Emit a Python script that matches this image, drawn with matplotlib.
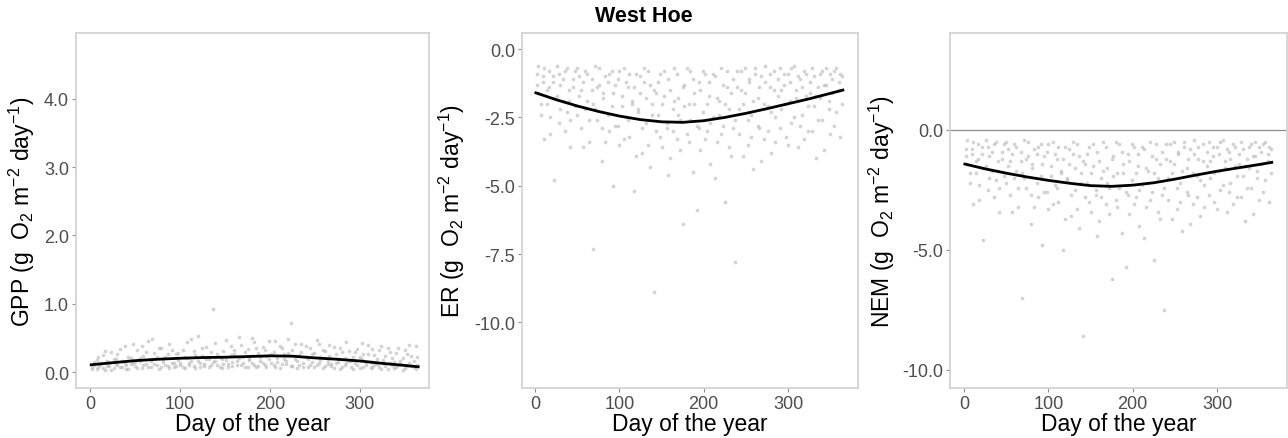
import matplotlib
matplotlib.use("Agg")
import matplotlib.pyplot as plt
from matplotlib.ticker import FormatStrFormatter

plt.rcParams['font.family'] = ['Liberation Sans', 'DejaVu Sans']
plt.rcParams['mathtext.default'] = 'regular'

# Day of the year for the daily estimates (two years share the same days)
days = [
    2, 4, 7, 9, 11, 14, 16, 18, 21, 23, 26, 28, 30, 33, 35, 38, 40, 42, 45, 47,
    50, 52, 55, 57, 59, 62, 64, 67, 69, 71, 74, 76, 79, 81, 83, 86, 88, 91, 93, 95,
    98, 100, 103, 105, 108, 110, 112, 115, 117, 120, 122, 124, 127, 129, 132, 134, 136, 139, 141, 144,
    146, 148, 151, 153, 156, 158, 160, 163, 165, 168, 170, 172, 175, 177, 180, 182, 184, 187, 189, 192,
    194, 196, 199, 201, 204, 206, 208, 211, 213, 216, 218, 220, 223, 225, 228, 230, 232, 235, 237, 240,
    242, 244, 247, 249, 252, 254, 256, 259, 261, 264, 266, 268, 271, 273, 276, 278, 280, 283, 285, 288,
    290, 292, 295, 297, 300, 302, 304, 307, 309, 312, 314, 316, 319, 321, 324, 326, 328, 331, 333, 336,
    338, 340, 343, 345, 348, 350, 352, 355, 357, 360, 362, 364]

gpp_y1 = [
    0.08, 0.15, 0.05, 0.22, 0.11, 0.06, 0.31, 0.09, 0.14, 0.04, 0.19, 0.12, 0.27, 0.07, 0.16, 0.38, 0.10, 0.05, 0.21, 0.13,
    0.09, 0.33, 0.17, 0.06, 0.24, 0.12, 0.45, 0.08, 0.19, 0.28, 0.11, 0.05, 0.36, 0.15, 0.22, 0.09, 0.41, 0.13, 0.07, 0.26,
    0.18, 0.10, 0.32, 0.06, 0.21, 0.14, 0.48, 0.09, 0.25, 0.17, 0.07, 0.35, 0.12, 0.20, 0.08, 0.29, 0.15, 0.43, 0.11, 0.23,
    0.06, 0.31, 0.18, 0.12, 0.39, 0.09, 0.26, 0.16, 0.52, 0.10, 0.22, 0.07, 0.34, 0.19, 0.13, 0.44, 0.08, 0.28, 0.17, 0.37,
    0.11, 0.24, 0.46, 0.14, 0.30, 0.08, 0.21, 0.38, 0.12, 0.27, 0.16, 0.49, 0.09, 0.33, 0.19, 0.06, 0.25, 0.41, 0.13, 0.22,
    0.07, 0.35, 0.15, 0.28, 0.10, 0.42, 0.18, 0.06, 0.31, 0.12, 0.24, 0.09, 0.37, 0.14, 0.20, 0.05, 0.29, 0.11, 0.44, 0.16,
    0.08, 0.23, 0.13, 0.34, 0.06, 0.19, 0.27, 0.10, 0.40, 0.15, 0.07, 0.25, 0.12, 0.32, 0.05, 0.18, 0.09, 0.36, 0.14, 0.21,
    0.06, 0.28, 0.11, 0.17, 0.04, 0.33, 0.09, 0.13, 0.24, 0.07, 0.38, 0.10]
gpp_y2 = [
    0.05, 0.10, 0.18, 0.07, 0.13, 0.25, 0.04, 0.16, 0.09, 0.29, 0.06, 0.20, 0.11, 0.34, 0.08, 0.14, 0.05, 0.23, 0.12, 0.42,
    0.15, 0.06, 0.21, 0.39, 0.10, 0.30, 0.07, 0.17, 0.48, 0.12, 0.23, 0.35, 0.08, 0.19, 0.11, 0.27, 0.06, 0.32, 0.14, 0.09,
    0.28, 0.13, 0.07, 0.22, 0.44, 0.10, 0.17, 0.31, 0.06, 0.53, 0.14, 0.24, 0.09, 0.37, 0.19, 0.11, 0.92, 0.16, 0.27, 0.08,
    0.20, 0.12, 0.47, 0.08, 0.25, 0.15, 0.33, 0.10, 0.21, 0.40, 0.13, 0.29, 0.07, 0.18, 0.50, 0.11, 0.36, 0.09, 0.23, 0.14,
    0.32, 0.08, 0.19, 0.27, 0.10, 0.45, 0.15, 0.06, 0.35, 0.20, 0.12, 0.28, 0.72, 0.09, 0.42, 0.16, 0.11, 0.30, 0.07, 0.38,
    0.19, 0.10, 0.26, 0.08, 0.47, 0.14, 0.22, 0.33, 0.09, 0.17, 0.40, 0.12, 0.06, 0.27, 0.15, 0.36, 0.08, 0.21, 0.13, 0.31,
    0.17, 0.05, 0.30, 0.10, 0.22, 0.43, 0.08, 0.15, 0.26, 0.06, 0.34, 0.11, 0.20, 0.07, 0.39, 0.13, 0.24, 0.05, 0.29, 0.10,
    0.15, 0.08, 0.35, 0.12, 0.21, 0.06, 0.27, 0.40, 0.09, 0.16, 0.05, 0.22]

er_y1 = [
    -0.9, -1.6, -2.4, -1.2, -0.7, -2.0, -1.4, -3.1, -1.0, -1.8, -0.6, -2.7, -1.3, -1.9, -0.8, -2.3, -1.5, -3.6, -1.1, -2.1,
    -0.7, -1.7, -2.9, -1.2, -2.2, -0.9, -3.4, -1.5, -2.0, -0.6, -2.6, -1.3, -4.1, -1.8, -1.0, -2.4, -3.0, -0.8, -1.6, -2.8,
    -1.1, -3.5, -2.1, -0.7, -2.5, -1.4, -3.2, -1.9, -5.2, -0.9, -2.3, -1.6, -3.8, -1.2, -2.7, -0.8, -4.3, -2.0, -1.5, -3.0,
    -2.4, -0.9, -3.6, -1.7, -2.9, -1.1, -4.0, -2.2, -0.7, -3.3, -1.8, -2.6, -6.4, -1.3, -3.1, -2.0, -0.8, -4.5, -1.6, -2.8,
    -1.2, -3.7, -2.3, -0.9, -3.0, -1.7, -4.2, -2.5, -1.0, -3.4, -1.9, -0.7, -2.8, -5.6, -1.4, -2.2, -3.9, -1.1, -2.6, -0.8,
    -3.1, -1.5, -2.0, -0.7, -3.5, -1.2, -2.4, -4.4, -0.9, -1.8, -2.9, -1.0, -3.3, -0.6, -2.1, -1.4, -3.8, -0.8, -2.5, -1.7,
    -0.7, -2.2, -1.3, -3.2, -0.9, -1.9, -2.7, -0.6, -1.5, -3.6, -1.1, -2.4, -0.8, -1.7, -3.0, -1.2, -0.7, -2.1, -4.0, -1.4,
    -0.9, -2.6, -1.3, -0.7, -1.9, -3.1, -1.1, -0.8, -2.3, -1.5, -0.9, -2.0]
er_y2 = [
    -1.3, -0.6, -2.0, -1.0, -3.3, -1.5, -0.8, -2.5, -1.2, -4.8, -1.7, -0.9, -2.2, -1.1, -3.0, -0.7, -1.9, -2.6, -1.4, -0.8,
    -2.4, -1.0, -1.5, -3.6, -0.8, -1.9, -2.6, -1.1, -7.3, -2.2, -1.4, -0.7, -2.9, -1.6, -3.4, -1.2, -0.9, -2.1, -5.0, -1.3,
    -2.8, -0.8, -1.7, -3.3, -1.2, -2.6, -0.9, -2.0, -1.4, -3.9, -2.2, -1.0, -2.9, -0.7, -1.8, -3.5, -1.3, -2.4, -8.9, -1.6,
    -1.2, -3.2, -2.0, -0.8, -2.7, -4.6, -1.5, -3.0, -1.9, -0.9, -2.4, -3.7, -1.4, -2.1, -0.7, -3.4, -2.6, -1.1, -2.0, -5.9,
    -2.9, -1.5, -0.8, -3.3, -2.0, -1.2, -2.7, -0.9, -4.7, -1.8, -2.4, -3.1, -1.3, -2.0, -0.8, -3.6, -1.6, -2.9, -7.8, -1.4,
    -2.2, -0.8, -3.9, -1.6, -2.6, -1.1, -3.2, -1.9, -0.7, -2.8, -1.4, -4.1, -2.0, -1.2, -3.0, -0.9, -2.3, -1.5, -3.4, -1.1,
    -2.9, -1.5, -0.9, -2.0, -3.5, -1.2, -0.7, -2.5, -1.8, -1.0, -2.8, -1.4, -3.3, -0.9, -2.1, -1.6, -3.0, -1.0, -1.7, -2.6,
    -1.8, -0.8, -3.7, -1.3, -2.2, -0.9, -1.6, -2.8, -0.7, -1.2, -3.2, -1.0]

nem_y1 = [
    -0.8, -1.4, -2.2, -1.0, -0.5, -1.8, -1.2, -2.9, -0.7, -1.6, -0.4, -2.5, -1.1, -1.7, -0.6, -2.1, -1.3, -3.4, -0.9, -1.9,
    -0.5, -1.5, -2.7, -1.0, -2.0, -0.7, -3.2, -1.3, -1.8, -0.4, -2.4, -1.1, -3.9, -1.6, -0.8, -2.2, -2.8, -0.6, -1.4, -2.6,
    -0.9, -3.3, -1.9, -0.5, -2.3, -1.2, -3.0, -1.7, -5.0, -0.7, -2.1, -1.4, -3.6, -1.0, -2.5, -0.6, -4.1, -1.8, -1.3, -2.8,
    -2.2, -0.7, -3.4, -1.5, -2.7, -0.9, -3.8, -2.0, -0.5, -3.1, -1.6, -2.4, -6.2, -1.1, -2.9, -1.8, -0.6, -4.3, -1.4, -2.6,
    -1.0, -3.5, -2.1, -0.7, -2.8, -1.5, -4.0, -2.3, -0.8, -3.2, -1.7, -0.5, -2.6, -5.4, -1.2, -2.0, -3.7, -0.9, -2.4, -0.6,
    -2.9, -1.3, -1.8, -0.5, -3.3, -1.0, -2.2, -4.2, -0.7, -1.6, -2.7, -0.8, -3.1, -0.4, -1.9, -1.2, -3.6, -0.6, -2.3, -1.5,
    -0.5, -2.0, -1.1, -3.0, -0.7, -1.7, -2.5, -0.4, -1.3, -3.4, -0.9, -2.2, -0.6, -1.5, -2.8, -1.0, -0.5, -1.9, -3.8, -1.2,
    -0.7, -2.4, -1.1, -0.5, -1.7, -2.9, -0.9, -0.6, -2.1, -1.3, -0.7, -1.8]
nem_y2 = [
    -1.1, -0.4, -1.8, -0.8, -3.1, -1.3, -0.6, -2.3, -1.0, -4.6, -1.5, -0.7, -2.0, -0.9, -2.8, -0.5, -1.7, -2.4, -1.2, -0.6,
    -2.2, -0.8, -1.3, -3.4, -0.6, -1.7, -2.4, -0.9, -7.0, -2.0, -1.2, -0.5, -2.7, -1.4, -3.2, -1.0, -0.7, -1.9, -4.8, -1.1,
    -2.6, -0.6, -1.5, -3.1, -1.0, -2.4, -0.7, -1.8, -1.2, -3.7, -2.0, -0.8, -2.7, -0.5, -1.6, -3.3, -1.1, -2.2, -8.6, -1.4,
    -1.0, -3.0, -1.8, -0.6, -2.5, -4.4, -1.3, -2.8, -1.7, -0.7, -2.2, -3.5, -1.2, -1.9, -0.5, -3.2, -2.4, -0.9, -1.8, -5.7,
    -2.7, -1.3, -0.6, -3.1, -1.8, -1.0, -2.5, -0.7, -4.5, -1.6, -2.2, -2.9, -1.1, -1.8, -0.6, -3.4, -1.4, -2.7, -7.5, -1.2,
    -2.0, -0.6, -3.7, -1.4, -2.4, -0.9, -3.0, -1.7, -0.5, -2.6, -1.2, -3.9, -1.8, -1.0, -2.8, -0.7, -2.1, -1.3, -3.2, -0.9,
    -2.7, -1.3, -0.7, -1.8, -3.3, -1.0, -0.5, -2.3, -1.6, -0.8, -2.6, -1.2, -3.1, -0.7, -1.9, -1.4, -2.8, -0.8, -1.5, -2.4,
    -1.6, -0.6, -3.5, -1.1, -2.0, -0.7, -1.4, -2.6, -0.5, -1.0, -3.0, -0.8]

# Fitted seasonal curves
fit_days = [1, 25, 50, 75, 100, 125, 150, 175, 200, 225, 250, 275, 300, 325, 350, 365]
gpp_fit = [0.11, 0.14, 0.17, 0.19, 0.205, 0.215, 0.22, 0.23, 0.24, 0.235, 0.21, 0.19, 0.165, 0.13, 0.10, 0.08]
er_fit = [-1.6, -1.85, -2.08, -2.28, -2.45, -2.58, -2.66, -2.68, -2.62, -2.5, -2.35, -2.18, -2.0, -1.82, -1.62, -1.5]
nem_fit = [-1.42, -1.62, -1.8, -1.96, -2.1, -2.22, -2.32, -2.35, -2.3, -2.2, -2.05, -1.88, -1.72, -1.58, -1.44, -1.35]

panels = [
    dict(rect=[0.0590, 0.1139, 0.2741, 0.8087], xlim=(-16, 377), ylim=(-0.23, 4.96),
         yticks=[0, 1, 2, 3, 4], pts=(gpp_y1, gpp_y2), fit=gpp_fit, name='GPP', labx=-0.110),
    dict(rect=[0.4053, 0.1139, 0.2609, 0.8087], xlim=(-15.4, 383), ylim=(-12.4, 0.59),
         yticks=[0, -2.5, -5, -7.5, -10], pts=(er_y1, er_y2), fit=er_fit, name='ER', labx=-0.164),
    dict(rect=[0.7376, 0.1139, 0.2616, 0.8087], xlim=(-16.6, 383), ylim=(-10.75, 4.04),
         yticks=[0, -5, -10], pts=(nem_y1, nem_y2), fit=nem_fit, name='NEM', labx=-0.157),
]

fig = plt.figure(figsize=(12.88, 4.39), dpi=100)

for i, p in enumerate(panels):
    ax = fig.add_axes(p['rect'])
    for vals in p['pts']:
        ax.scatter(days, vals, s=7, color='#b0b0b0', alpha=0.55, linewidths=0, zorder=1)
    if p['name'] == 'NEM':
        ax.axhline(0, color='#8c8c8c', lw=0.9, zorder=0)
    ax.plot(fit_days, p['fit'], color='black', lw=2.0, zorder=3)
    ax.set_xlim(*p['xlim'])
    ax.set_ylim(*p['ylim'])
    ax.set_xticks([0, 100, 200, 300])
    ax.set_yticks(p['yticks'])
    ax.yaxis.set_major_formatter(FormatStrFormatter('%.1f'))
    ax.tick_params(colors='#8c8c8c', labelcolor='#4d4d4d', labelsize=13, length=3, width=0.8, pad=2)
    for s in ax.spines.values():
        s.set_color('#d0d0d0')
        s.set_linewidth(1.2)
    ax.set_xlabel('Day of the year', fontsize=16.5, labelpad=0)
    ax.set_ylabel(p['name'] + r' (g  O$_2$ m$^{-2}$ day$^{-1}$)', fontsize=16.5)
    ax.yaxis.set_label_coords(p['labx'], 0.5)

fig.text(0.5, 1 - 16 / 439, 'West Hoe', ha='center', va='center', fontsize=15.5, fontweight='bold')

fig.savefig('out.png', dpi=100)
